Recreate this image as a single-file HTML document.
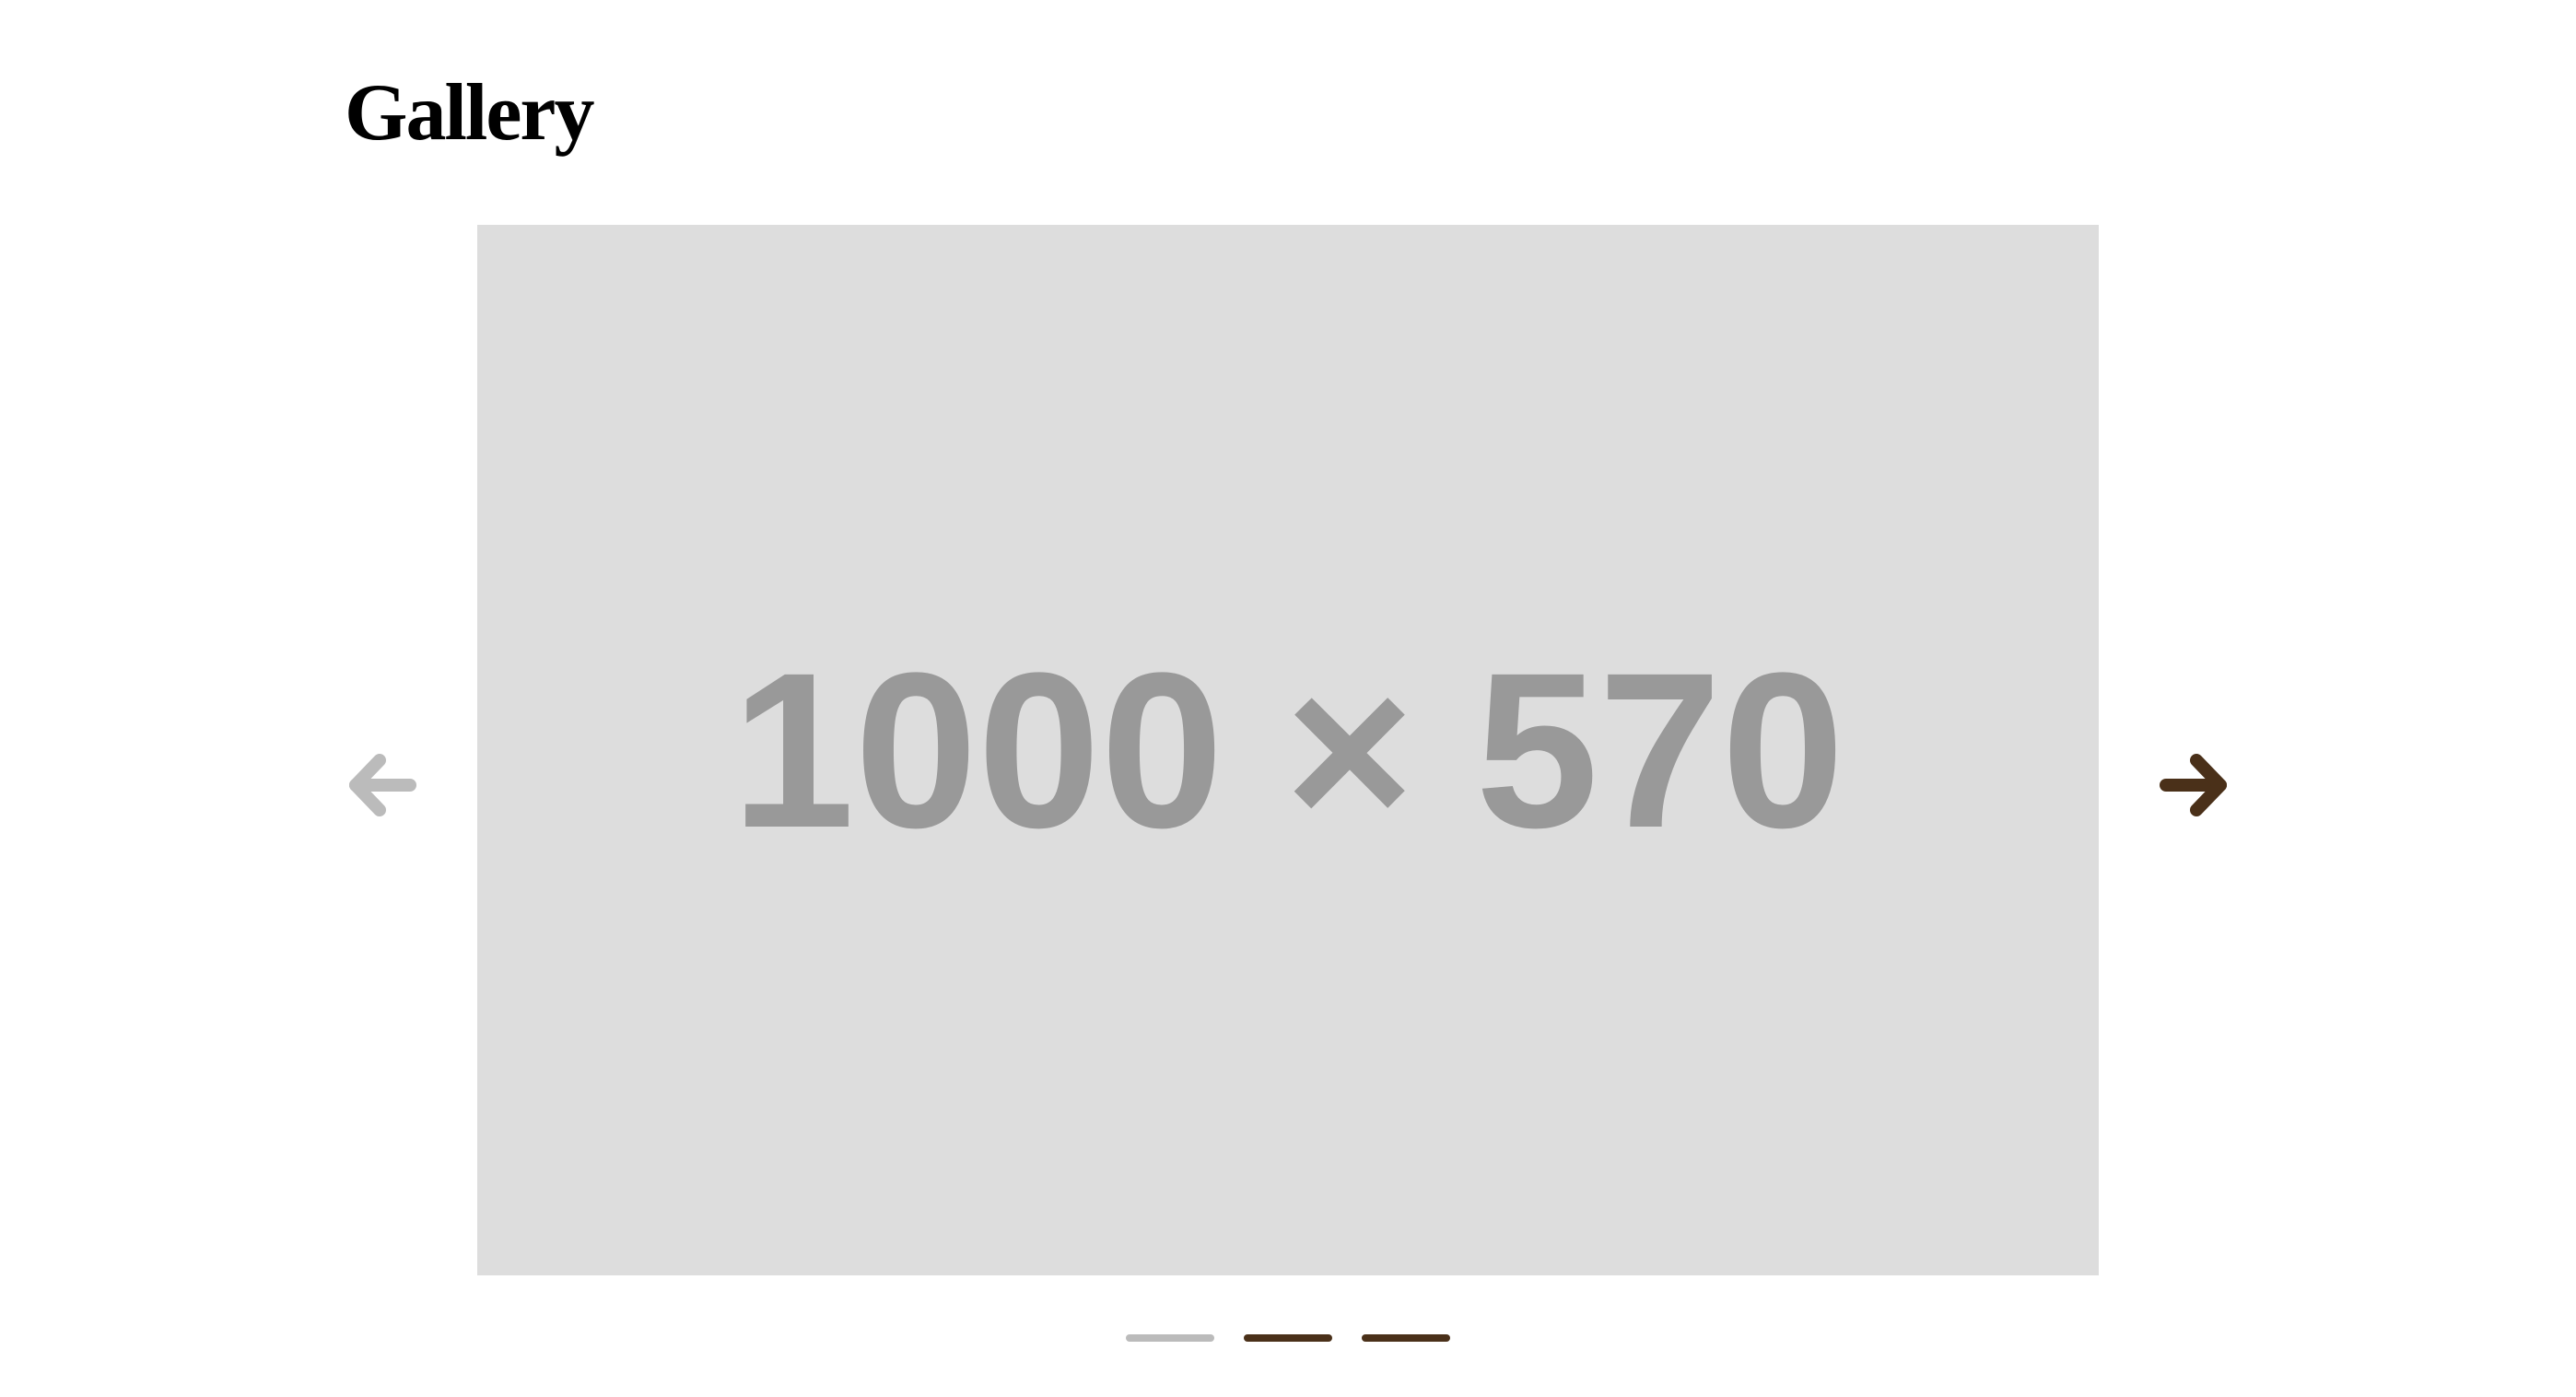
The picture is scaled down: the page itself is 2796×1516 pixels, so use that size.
<!DOCTYPE html>
<html><head><meta charset="utf-8">
<style>
html,body{margin:0;padding:0;background:#fff;}
body{width:2796px;height:1516px;position:relative;overflow:hidden;}
#title{position:absolute;left:374px;top:63px;margin:0;font-family:"Liberation Serif",serif;font-weight:bold;font-size:88px;line-height:120px;color:#000;letter-spacing:-2px;}
#slide{position:absolute;left:518px;top:244px;width:1760px;height:1140px;background:#dddddd;}
#slide-label{position:absolute;left:0;top:0;width:100%;height:100%;display:flex;align-items:center;justify-content:center;font-family:"Liberation Sans",sans-serif;font-weight:bold;font-size:240px;color:#999999;letter-spacing:0px;}
.arrow{position:absolute;top:812px;width:80px;height:80px;cursor:pointer;}
.dot{position:absolute;top:1448px;width:96px;height:8px;border-radius:4px;cursor:pointer;}
</style></head>
<body>
<h1 id="title">Gallery</h1>
<div id="slide">
  <div id="slide-label">1000 × 570</div>
</div>
<svg class="arrow" style="left:374px" viewBox="0 0 80 80">
  <g fill="none" stroke="#bbbbbb" stroke-width="14" stroke-linecap="round" stroke-linejoin="round">
    <line x1="12" y1="40" x2="71" y2="40"/>
    <polyline points="38,13 12,40 38,67"/>
  </g>
</svg>
<svg class="arrow" style="left:2342px" viewBox="0 0 80 80">
  <g fill="none" stroke="#4a3019" stroke-width="14" stroke-linecap="round" stroke-linejoin="round">
    <line x1="9" y1="40" x2="68" y2="40"/>
    <polyline points="42,13 68,40 42,67"/>
  </g>
</svg>
<div class="dot" style="left:1222px;background:#bbbbbb"></div>
<div class="dot" style="left:1350px;background:#4a3019"></div>
<div class="dot" style="left:1478px;background:#4a3019"></div>
</body></html>
